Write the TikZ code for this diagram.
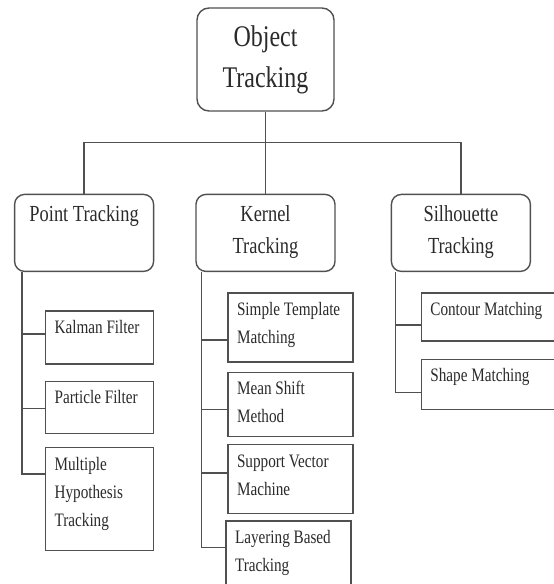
\documentclass[tikz,border=0pt]{standalone}
\usepackage{fontspec}
\setmainfont{Liberation Serif}[FakeStretch=0.8]
\usepackage{xcolor}
\usepackage{tikz}
\usetikzlibrary{positioning}
\definecolor{boxline}{HTML}{505050}
\definecolor{boxtext}{HTML}{2a2a2a}

\begin{document}
\begin{tikzpicture}[x=1pt,y=-1pt,
    box/.style={draw=boxline,line width=1.4pt,text=boxtext,inner xsep=9pt,inner ysep=8pt,execute at begin node={\spaceskip=0.2em\relax}},
    root/.style={box,rounded corners=12pt,text width=119pt,align=center,minimum height=103pt,font=\fontsize{30pt}{41pt}\selectfont},
    mid/.style={box,rounded corners=10pt,text width=121pt,align=center,inner ysep=10pt,text height=17pt,text depth=40pt,font=\fontsize{23pt}{32pt}\selectfont},
    leaf/.style={box,align=left,text height=14.5pt,text depth=#1,font=\fontsize{19pt}{28pt}\selectfont},
    link/.style={draw=boxline,line width=1.4pt}]
    \useasboundingbox (0,0) rectangle (554,584);
    \node[root] (OT) at (265.5,59.5) {Object\\Tracking};
    \node[mid,below=82pt of OT] (KT) {Kernel\\Tracking};
    \node[mid,left=41pt of KT] (PT) {Point Tracking};
    \node[mid,right=55pt of KT] (ST) {Silhouette\\Tracking};
    \node[leaf=22.5pt,text width=90pt,below right=38pt and 31pt of PT.south west] (Kalman) {Kalman Filter};
    \node[leaf=21.5pt,text width=90pt,below=16pt of Kalman] (Particle) {Particle Filter};
    \node[leaf=72.5pt,text width=90pt,below=13pt of Particle] (MHT) {Multiple\\Hypothesis\\Tracking};
    \node[leaf=38.5pt,text width=107pt,below right=20pt and 32pt of KT.south west] (Template) {Simple Template\\Matching};
    \node[leaf=33.5pt,text width=107pt,below=9pt of Template] (MeanShift) {Mean Shift\\Method};
    \node[leaf=38.5pt,text width=107pt,below=7pt of MeanShift] (SVM) {Support Vector\\Machine};
    \node[leaf=49.5pt,text width=107pt,below=6pt of SVM,xshift=-2pt] (Layering) {Layering Based\\Tracking};
    \node[leaf=17.5pt,text width=122pt,below right=20pt and 30pt of ST.south west] (Contour) {Contour Matching};
    \node[leaf=19.5pt,text width=122pt,below=17pt of Contour] (Shape) {Shape Matching};
    \coordinate (bar) at ([yshift=-31pt]OT.south);
    \draw[link] (OT) -- (KT);
    \draw[link] (PT.north) |- (bar) -| (ST.north);
    \coordinate (PTtrunk) at ([xshift=8pt]PT.south west);
    \coordinate (KTtrunk) at ([xshift=6pt]KT.south west);
    \coordinate (STtrunk) at ([xshift=5pt]ST.south west);
    \draw[link] (PTtrunk) |- ([yshift=-24pt]Kalman.north west);
    \draw[link] (PTtrunk) |- ([yshift=-28pt]Particle.north west);
    \draw[link] (PTtrunk) |- ([yshift=-27pt]MHT.north west);
    \draw[link] (KTtrunk) |- ([yshift=-48pt]Template.north west);
    \draw[link] (KTtrunk) |- ([yshift=-38pt]MeanShift.north west);
    \draw[link] (KTtrunk) |- ([yshift=-29pt]SVM.north west);
    \draw[link] (KTtrunk) |- ([yshift=-27pt]Layering.north west);
    \draw[link] (STtrunk) |- ([yshift=-33pt]Contour.north west);
    \draw[link] (STtrunk) |- ([yshift=-34pt]Shape.north west);
  \end{tikzpicture}
\end{document}
